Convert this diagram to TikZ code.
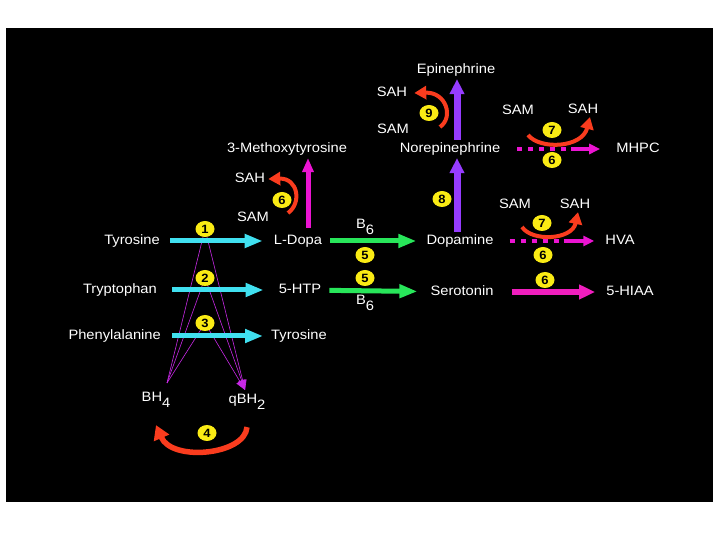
\documentclass[tikz,border=0pt]{standalone}
\usepackage{fontspec}
\newfontfamily\lblfont[FakeStretch=1.08]{Liberation Sans}
\usepackage{tikz}
\usetikzlibrary{arrows.meta,shapes.geometric}

\definecolor{hydcyan}{RGB}{64,224,240}
\definecolor{decgreen}{RGB}{40,230,90}
\definecolor{comtpink}{RGB}{235,20,210}
\definecolor{maopink}{RGB}{240,30,190}
\definecolor{dbhviolet}{RGB}{150,60,255}
\definecolor{cofviolet}{RGB}{200,40,230}
\definecolor{samred}{RGB}{250,60,30}
\definecolor{enzyellow}{RGB}{250,235,20}

\begin{document}
\begin{tikzpicture}[x=1pt,y=1pt,
    lbl/.style={text=white, font=\lblfont\fontsize{13.6}{15}\selectfont, inner sep=1pt, text height=9.8pt, text depth=2pt},
    enz/.style={ellipse, fill=enzyellow, text=black, inner sep=0pt, minimum width=19pt, minimum height=16pt, font=\lblfont\bfseries\fontsize{12}{13}\selectfont},
    hydrox/.style={draw=hydcyan, line width=5pt, -{Triangle[length=18pt,width=13pt]}},
    decarb/.style={draw=decgreen, line width=5pt, -{Triangle[length=18pt,width=13pt]}},
    dbh/.style={draw=dbhviolet, line width=7pt, -{Triangle[length=15pt,width=14pt]}},
    comt/.style={draw=comtpink, line width=5pt, -{Triangle[length=14pt,width=11pt]}},
    comtdash/.style={draw=comtpink, line width=4pt, dash pattern={on 5pt off 6pt on 5pt off 6pt on 5pt off 6pt on 5pt off 6pt on 5pt off 5pt on 40pt}, -{Triangle[length=11pt,width=10pt]}},
    mao/.style={draw=maopink, line width=6pt, -{Triangle[length=16pt,width=14pt]}},
    cofline/.style={draw=cofviolet, line width=0.6pt},
    transfer/.style={draw=samred, line width=4pt, -{Triangle[length=12pt,width=13pt]}},
  ]
  \useasboundingbox (0,0) rectangle (720,540);
  \fill[white] (0,0) rectangle (720,540);
  \fill[black] (6,38) rectangle (713,512);

  % --- substrates and products ---
  \node[lbl, anchor=east] (tyr) at (161,299) {Tyrosine};
  \node[lbl, anchor=east] (trp) at (158,250) {Tryptophan};
  \node[lbl, anchor=east] (phe) at (162,204) {Phenylalanine};
  \node[lbl] (ldopa) at (298,299) {L-Dopa};
  \node[lbl] (htp) at (300,250) {5-HTP};
  \node[lbl] (tyrb) at (299,204) {Tyrosine};
  \node[lbl] (dopa) at (460,299) {Dopamine};
  \node[lbl] (sero) at (462,248) {Serotonin};
  \node[lbl] (hva) at (620,299) {HVA};
  \node[lbl] (hiaa) at (630,248) {5-HIAA};
  \node[lbl] (meth) at (287,391) {3-Methoxytyrosine};
  \node[lbl] (norepi) at (450,391) {Norepinephrine};
  \node[lbl] (epi) at (456,470) {Epinephrine};
  \node[lbl] (mhpc) at (638,391) {MHPC};

  % --- cofactors ---
  \node[lbl] (sah6) at (250,361) {SAH};
  \node[lbl] (sam6) at (253,322) {SAM};
  \node[lbl] (sah9) at (392,447) {SAH};
  \node[lbl] (sam9) at (393,410) {SAM};
  \node[lbl] (sam7a) at (518,429) {SAM};
  \node[lbl] (sah7a) at (583,430) {SAH};
  \node[lbl] (sam7b) at (515,335) {SAM};
  \node[lbl] (sah7b) at (575,335) {SAH};
  \node[lbl] (b6a) at (365,315) {B\raisebox{-6pt}{6}};
  \node[lbl] (b6b) at (365,239) {B\raisebox{-6pt}{6}};
  \node[lbl] (bh4) at (156,142) {BH\raisebox{-6pt}{4}};
  \node[lbl] (qbh2) at (247,140) {qBH\raisebox{-6pt}{2}};

  % --- BH4 / qBH2 fan (behind the enzyme marks) ---
  \coordinate (c1) at (205,311);
  \coordinate (c2) at (205,262);
  \coordinate (c3) at (205,217);
  \coordinate (bhtip) at (167,157);
  \coordinate (qtip) at (245,150);
  \foreach \c in {c1,c2,c3}{
    \draw[cofline] (bhtip) -- (\c);
    \draw[cofline, -{Triangle[length=10pt,width=8pt]}] (\c) -- (qtip);
  }

  % --- main pathway arrows ---
  \draw[hydrox, shorten <=9pt, shorten >=10pt] (tyr) -- (ldopa);
  \draw[hydrox, shorten <=14pt, shorten >=14pt] (trp) -- (htp);
  \draw[hydrox, shorten <=10pt, shorten >=7pt] (phe) -- (tyrb);
  \draw[decarb, shorten <=7pt, shorten >=9pt] (ldopa) -- (dopa);
  \draw[decarb, shorten <=7pt, shorten >=12pt] (htp) -- (sero);
  \draw[comtdash, shorten <=15pt, shorten >=10pt] (dopa) -- (hva);
  \draw[mao, shorten <=17pt, shorten >=10pt] (sero) -- (hiaa);
  \draw[comtdash, shorten <=16pt, shorten >=15pt] (norepi) -- (mhpc);
  \draw[dbh, shorten <=2pt, shorten >=2pt] ([xshift=-3pt]dopa.north) -- ([xshift=7pt]norepi.south);
  \draw[dbh, shorten <=2pt, shorten >=2pt] ([xshift=7pt]norepi.north) -- ([xshift=1pt]epi.south);
  \draw[comt, shorten <=6pt, shorten >=2pt] ([xshift=10pt]ldopa.north) -- ([xshift=21pt]meth.south);

  % --- methyl transfer and recycling curves ---
  \coordinate (r6s) at (288,327);
  \coordinate (r9s) at (440,413);
  \coordinate (r7as) at (528,405);
  \coordinate (r7bs) at (522,313);
  \draw[transfer] (r6s) .. controls (302,337) and (298,362) .. ([xshift=2pt]sah6.east);
  \draw[transfer] (r9s) .. controls (454,423) and (446,448) .. ([xshift=6pt]sah9.east);
  \draw[transfer] (r7as) .. controls (540,390) and (582,392) .. ([xshift=7pt]sah7a.south);
  \draw[transfer] (r7bs) .. controls (532,298) and (572,300) .. ([xshift=3pt]sah7b.south);
  \draw[transfer, line width=5.5pt, -{Triangle[length=14pt,width=16pt]}]
    ([yshift=-20pt]qbh2.south) .. controls (245,85) and (172,78) .. ([yshift=-20pt]bh4.south);

  % --- enzyme numbers ---
  \node[enz] (n1) at (c1) {1};
  \node[enz] (n2) at (c2) {2};
  \node[enz] (n3) at (c3) {3};
  \node[enz] (n4) at (207,107) {4};
  \node[enz] (n5a) at (365,285) {5};
  \node[enz] (n5b) at (365,262) {5};
  \node[enz] (n6a) at (282,340) {6};
  \node[enz] (n6b) at (552,380) {6};
  \node[enz] (n6c) at (543,285) {6};
  \node[enz] (n6d) at (545,260) {6};
  \node[enz] (n7a) at (552,410) {7};
  \node[enz] (n7b) at (542,317) {7};
  \node[enz] (n8) at (442,341) {8};
  \node[enz] (n9) at (429,427) {9};
\end{tikzpicture}
\end{document}
